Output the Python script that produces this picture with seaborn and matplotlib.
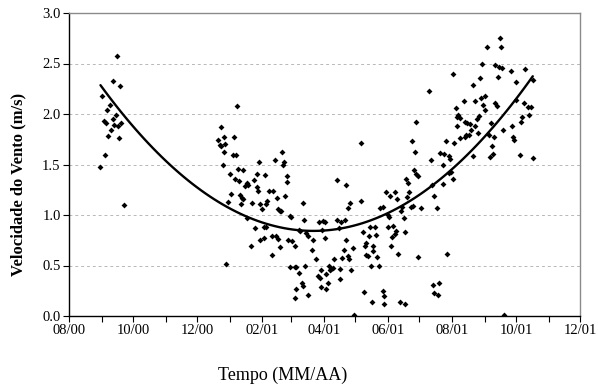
import numpy as np
import pandas as pd
import matplotlib
matplotlib.use("Agg")
import matplotlib.pyplot as plt
import matplotlib.dates as mdates
import matplotlib.ticker as mticker
import seaborn as sns

# ---- data ----
inicio = "2000-08-01"          # origin of the day offsets
eixo_x_ini = "2000-08-01"
eixo_x_fim = "2001-12-01"

dias = [46, 42, 49, 31, 36, 39, 45, 42, 33, 35, 43, 47, 50, 40, 37, 48, 34, 30, 52,
        160, 145, 142, 148, 144, 145, 149, 157, 148, 156, 159, 147, 181, 203, 196, 205, 204, 161, 166, 153,
        158, 162, 179, 187, 170, 171, 168, 176, 208, 208, 179, 180, 154, 163, 165, 166, 191, 194, 206, 198,
        174, 152, 164, 182, 189, 188, 184, 199, 201, 202, 211, 212, 170, 177, 186, 188, 197, 193, 199, 182,
        186, 209, 213, 173, 201, 215, 193, 150, 211, 215, 215,
        255, 264, 278, 268, 266, 223, 224, 238, 242, 244, 255, 259, 263, 219, 220, 226, 228, 241, 257, 280,
        233, 244, 264, 232, 262, 271, 235, 266, 253, 260, 267, 216, 225, 248, 250, 252, 249, 240, 258, 269,
        219, 245, 237, 239, 222, 247, 223, 216, 240, 245, 258, 281, 228, 272,
        278, 331, 327, 330, 345, 329, 331, 333, 321, 323, 346, 302, 306, 311, 313, 324, 322, 296, 299, 317,
        316, 326, 328, 335, 304, 305, 319, 287, 292, 304, 309, 312, 286, 293, 311, 320, 308, 283, 290, 307,
        282, 283, 285, 290, 294, 314, 333, 288, 295, 347, 348, 299, 300, 289, 300, 315, 320,
        411, 412, 398, 394, 406, 410, 413, 421, 366, 392, 409, 426, 385, 343, 393, 396, 376, 387, 426, 406,
        408, 395, 396, 369, 371, 370, 373, 391, 389, 377, 379, 382, 370, 402, 422, 387, 383, 378, 381, 414,
        373, 377, 390, 400, 405, 423, 424, 359, 367, 403, 354, 357, 362, 363, 404, 401, 385, 356, 430, 364,
        362, 366, 356, 348, 351, 360, 353, 352, 415,
        435, 442, 437, 440, 434, 438, 432, 431, 442]

vel = [2.57, 2.33, 2.28, 2.18, 2.04, 2.09, 1.99, 1.95, 1.93, 1.91, 1.89, 1.88, 1.91, 1.84, 1.78, 1.76, 1.59, 1.48, 1.10,
       2.08, 1.87, 1.74, 1.77, 1.69, 1.68, 1.70, 1.77, 1.62, 1.59, 1.59, 1.50, 1.52, 1.62, 1.54, 1.52, 1.50, 1.46, 1.45, 1.41,
       1.36, 1.34, 1.41, 1.40, 1.32, 1.30, 1.29, 1.35, 1.39, 1.33, 1.28, 1.24, 1.21, 1.20, 1.17, 1.16, 1.24, 1.24, 1.19, 1.17,
       1.12, 1.13, 1.11, 1.11, 1.14, 1.11, 1.06, 1.06, 1.04, 1.04, 0.99, 0.98, 0.97, 0.87, 0.88, 0.88, 0.79, 0.79, 0.76, 0.75,
       0.77, 0.75, 0.74, 0.69, 0.68, 0.69, 0.60, 0.51, 0.49, 0.49, 0.18,
       1.35, 1.30, 1.14, 1.12, 1.07, 1.12, 0.95, 0.93, 0.94, 0.93, 0.95, 0.93, 0.95, 0.85, 0.84, 0.82, 0.79, 0.85, 0.87, 0.83,
       0.75, 0.77, 0.75, 0.65, 0.65, 0.67, 0.56, 0.59, 0.56, 0.57, 0.56, 0.49, 0.50, 0.50, 0.47, 0.48, 0.46, 0.46, 0.47, 0.46,
       0.43, 0.42, 0.40, 0.38, 0.33, 0.33, 0.30, 0.27, 0.29, 0.27, 0.37, 0.24, 0.21, 0.01,
       1.71, 1.92, 1.73, 1.62, 1.54, 1.45, 1.41, 1.39, 1.36, 1.32, 1.30, 1.23, 1.19, 1.23, 1.16, 1.23, 1.18, 1.07, 1.08, 1.08,
       1.04, 1.08, 1.09, 1.07, 1.00, 0.98, 0.97, 0.88, 0.88, 0.88, 0.89, 0.84, 0.79, 0.80, 0.81, 0.83, 0.78, 0.72, 0.69, 0.69,
       0.69, 0.60, 0.59, 0.64, 0.58, 0.61, 0.58, 0.50, 0.50, 0.31, 0.23, 0.25, 0.20, 0.14, 0.12, 0.14, 0.12,
       2.75, 2.66, 2.66, 2.50, 2.49, 2.47, 2.46, 2.43, 2.40, 2.36, 2.37, 2.32, 2.29, 2.23, 2.16, 2.18, 2.13, 2.13, 2.14, 2.11,
       2.08, 2.09, 2.04, 2.06, 1.99, 1.97, 1.96, 1.98, 1.95, 1.92, 1.91, 1.90, 1.88, 1.91, 1.88, 1.88, 1.84, 1.79, 1.79, 1.84,
       1.76, 1.77, 1.81, 1.79, 1.77, 1.77, 1.74, 1.73, 1.71, 1.68, 1.61, 1.60, 1.58, 1.55, 1.60, 1.57, 1.58, 1.50, 1.59, 1.43,
       1.42, 1.36, 1.31, 1.19, 1.07, 0.61, 0.33, 0.21, 0.01,
       2.45, 2.34, 2.07, 2.07, 2.11, 1.99, 1.97, 1.92, 1.56]

y_ticks = [0.0, 0.5, 1.0, 1.5, 2.0, 2.5, 3.0]
y_label = "Velocidade do Vento (m/s)"
x_label = "Tempo (MM/AA)"

# ---- frame ----
df = pd.DataFrame({"data": pd.Timestamp(inicio) + pd.to_timedelta(dias, unit="D"),
                   "vel": vel})
df["x"] = mdates.date2num(df["data"])

sns.set_theme(style="white")
plt.rcParams["font.family"] = ["Liberation Serif", "DejaVu Serif"]
plt.rcParams["text.color"] = "black"
plt.rcParams["xtick.color"] = "black"
plt.rcParams["ytick.color"] = "black"

fig = plt.figure(figsize=(5.98, 3.88), dpi=100)
ax = fig.add_axes([69 / 598, 1 - 316 / 388, (580 - 69) / 598, (316 - 13) / 388])

sns.regplot(data=df, x="x", y="vel", order=2, ci=None, ax=ax, color="black",
            marker="D", truncate=True,
            scatter_kws=dict(s=9, linewidths=0, alpha=1),
            line_kws=dict(color="black", lw=1.7))

ax.set_xlim(mdates.date2num(pd.Timestamp(eixo_x_ini)), mdates.date2num(pd.Timestamp(eixo_x_fim)))
ax.set_ylim(y_ticks[0], y_ticks[-1])
ax.set_yticks(y_ticks)
ax.yaxis.set_major_formatter(mticker.FormatStrFormatter("%.1f"))

ax.xaxis.set_major_locator(mdates.MonthLocator(bymonth=[2, 4, 6, 8, 10, 12]))
ax.xaxis.set_minor_locator(mdates.MonthLocator())
ax.xaxis.set_major_formatter(mdates.DateFormatter("%m/%y"))

ax.yaxis.grid(True, linestyle=(0, (3, 3)), color="#b8b8b8", lw=0.7)
ax.xaxis.grid(False)
ax.set_axisbelow(True)

ax.tick_params(axis="both", which="both", direction="out", length=4, width=0.8,
               color="black", labelcolor="black", bottom=True, left=True,
               labelsize=10.5, pad=2)

for s in ["left", "bottom"]:
    ax.spines[s].set_color("black")
    ax.spines[s].set_linewidth(1.0)
for s in ["top", "right"]:
    ax.spines[s].set_color("#8a8a8a")
    ax.spines[s].set_linewidth(1.0)

ax.set_xlabel("")
ax.set_ylabel("")
fig.text(18 / 598, 1 - 184 / 388, y_label, rotation=90, ha="center", va="center",
         fontsize=12, fontweight="bold", color="black")
fig.text(283 / 598, 1 - 375 / 388, x_label, ha="center", va="center", fontsize=13,
         color="black")

fig.savefig("out.png", dpi=100)
